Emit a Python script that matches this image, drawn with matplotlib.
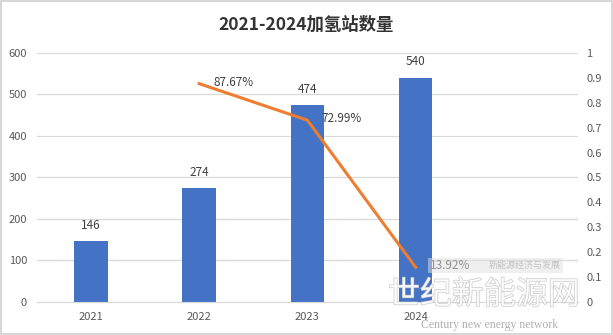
import matplotlib

matplotlib.use("Agg")
import matplotlib.pyplot as plt
import matplotlib.patheffects as pe
from matplotlib.patches import Rectangle

plt.rcParams["font.family"] = ["Noto Sans CJK SC", "DejaVu Sans"]

years = ["2021", "2022", "2023", "2024"]
stations = [146, 274, 474, 540]
growth_years = ["2022", "2023", "2024"]
growth = [0.8767, 0.7299, 0.1392]
growth_labels = ["87.67%", "72.99%", "13.92%"]

BAR = "#4472C4"
LINE = "#ED7D31"
TICK = "#595959"
GRID = "#D9D9D9"

fig = plt.figure(figsize=(6.13, 3.35), dpi=100)
ax = fig.add_axes([0.060, 0.0985, 0.883, 0.7435])

# five category slots, the last one left empty
xpos = {y: i for i, y in enumerate(years)}
bx = [xpos[y] for y in years]
ax.bar(bx, stations, width=0.31, color=BAR, zorder=2)
for x, v in zip(bx, stations):
    ax.annotate(str(v), xy=(x, v), xytext=(0, 7), textcoords="offset points",
                ha="center", va="bottom", fontsize=8.5, color="#404040")

ax.set_xlim(-0.5, 4.5)
ax.set_ylim(0, 600)
ax.set_yticks(range(0, 601, 100))
ax.set_xticks(bx)
ax.set_xticklabels(years)
ax.grid(True, axis="y", color=GRID, linewidth=0.9, zorder=0)
ax.set_axisbelow(True)
for s in ax.spines.values():
    s.set_visible(False)
ax.spines["bottom"].set_visible(True)
ax.spines["bottom"].set_color(GRID)
ax.tick_params(axis="both", length=0, labelsize=8, labelcolor=TICK)
ax.tick_params(axis="y", pad=7)
ax.tick_params(axis="x", pad=7)

ax2 = ax.twinx()
ax2.set_ylim(0, 1)
ax2.set_yticks([i / 10 for i in range(11)])
ax2.set_yticklabels(["0"] + [f"0.{i}" for i in range(1, 10)] + ["1"])
for s in ax2.spines.values():
    s.set_visible(False)
ax2.tick_params(axis="y", length=0, labelsize=8, labelcolor=TICK, pad=6)
gx = [xpos[y] for y in growth_years]
ax2.plot(gx, growth, color=LINE, linewidth=2.2, zorder=3)
for x, v, lab in zip(gx, growth, growth_labels):
    ax2.annotate(lab, xy=(x, v), xytext=(10, 1), textcoords="offset points",
                 ha="left", va="center", fontsize=8.5, color="#404040")

fig.text(0.5, 0.925, "2021-2024加氢站数量", ha="center", va="center",
         fontsize=12.5, fontweight="bold", color="#333333")

# watermark
fig.patches.append(Rectangle((428 / 613, 1 - 273 / 335), 135 / 613, 15 / 335,
                             transform=fig.transFigure, facecolor="#E0E0E0",
                             alpha=0.5, edgecolor="none", zorder=5))
fig.text(561 / 613, 1 - 265 / 335, "新能源经济与发展", ha="right", va="center",
         fontsize=6.5, color="#C4C4C4", zorder=6)
fig.text(484 / 613, 1 - 295 / 335, "世纪新能源网", ha="center", va="center",
         fontsize=23, color="white", alpha=0.8, zorder=6,
         path_effects=[pe.withStroke(linewidth=0.9, foreground="#BDBDBD")])
fig.text(490 / 613, 1 - 325 / 335, "Century new energy network", ha="center",
         va="center", fontsize=8.5, family="Liberation Serif", color="#B0B0B0",
         zorder=6)

fig.patches.append(Rectangle((0.001, 0.002), 0.997, 0.995, transform=fig.transFigure,
                             facecolor="none", edgecolor="#D0D0D0", linewidth=1.2))

fig.savefig("out.png", dpi=100)
